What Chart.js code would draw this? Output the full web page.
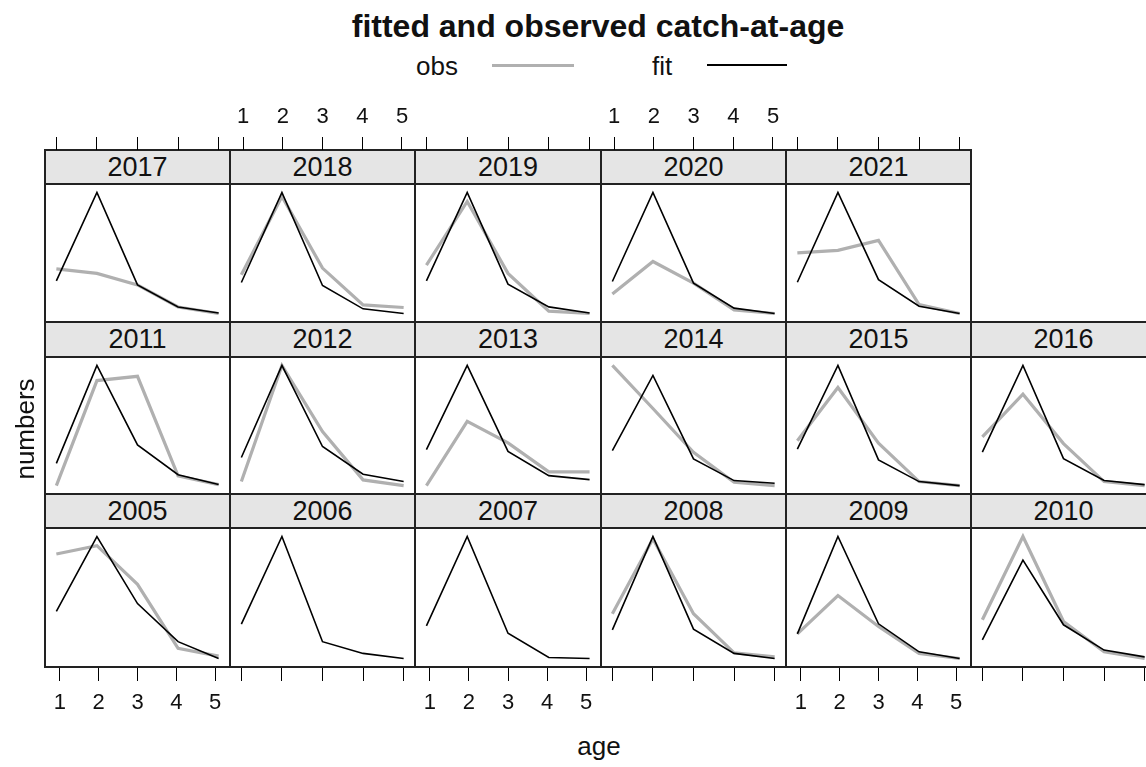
<!DOCTYPE html>
<html>
<head>
<meta charset="utf-8">
<script src="https://cdn.jsdelivr.net/npm/chart.js"></script>
<style>
body { margin:0; width:1146px; height:767px; overflow:hidden; background:#fff; position:relative;
       font-family:"Liberation Sans", Arial, sans-serif; color:#111; }
.txt { position:absolute; white-space:nowrap; line-height:1; }
.strip { position:absolute; background:#e5e5e5; text-align:center; font-size:27px; line-height:34px; }
.frame { position:absolute; border:2px solid #222; box-sizing:border-box; }
.bar { position:absolute; }
canvas { position:absolute; }
</style>
</head>
<body>
<script>
// panels go left to right, bottom row first (lattice order)
const years = [2005, 2006, 2007, 2008, 2009, 2010,
               2011, 2012, 2013, 2014, 2015, 2016,
               2017, 2018, 2019, 2020, 2021];
const ages = [1, 2, 3, 4, 5];

const fitted = [
    [55.3, 129.3, 63, 25.3, 8.7],     // 2005
    [42.7, 129.3, 25.3, 13.7, 8.7],   // 2006
    [41, 129.3, 33.7, 9.7, 8.7],      // 2007
    [37, 129.3, 37.7, 13.7, 8.7],     // 2008
    [33, 129.3, 43, 15.3, 8.7],       // 2009
    [27, 106, 42, 17, 10.3],          // 2010
    [29.7, 128.3, 48.3, 18.3, 8.3],   // 2011
    [36.3, 128.3, 47.3, 19.7, 12.3],  // 2012
    [44, 128.3, 42.3, 18, 14],        // 2013
    [44, 119, 35.7, 14, 11.3],        // 2014
    [44.7, 128.3, 34, 12.3, 8.3],     // 2015
    [42.3, 128.3, 35.7, 14, 10],      // 2016
    [41, 129, 37, 15, 9],             // 2017
    [39.3, 129.3, 36.3, 13, 8.3],     // 2018
    [41.3, 129.3, 38, 15.3, 9.3],     // 2019
    [40.3, 129.3, 38.7, 13.7, 8.3],   // 2020
    [39.3, 129.3, 42, 15.3, 8]        // 2021
];

const observed = [
    [112, 120.3, 82, 18.7, 11],       // 2005
    null,                             // 2006 no obs
    null,                             // 2007 no obs
    [53, 127, 53, 14.3, 10.3],        // 2008
    [33, 71, 40.3, 13.7, 8.7],        // 2009
    [47, 129.3, 45.3, 15.3, 8.7],     // 2010
    [7.3, 113, 117.3, 17, 8.3],       // 2011
    [12.3, 128.3, 62.3, 14, 8.3],     // 2012
    [8, 72.3, 50.7, 21.7, 21.7],      // 2013
    [129, 86, 42.3, 12.3, 9],         // 2014
    [53, 106.3, 50.7, 12.3, 8.3],     // 2015
    [57.3, 99.7, 50.7, 13, 9],        // 2016
    [53, 48.5, 37, 15, 8.5],          // 2017
    [47, 125.3, 53.7, 17, 14.3],      // 2018
    [57, 120.3, 48.7, 11, 8.7],       // 2019
    [27.7, 60.3, 38.7, 12, 8.3],      // 2020
    [68.7, 71.3, 81.3, 17, 8]         // 2021
];

// page geometry
const colLeft = [45, 230, 415, 601, 786, 971, 1156];
const stripTop = [494, 322, 150];
const plotTop = [528, 357, 184];
const plotBottom = [667, 494, 322];
const xMin = 0.72, xMax = 5.28;
const obsColor = '#b0b0b0';
const fontFam = '"Liberation Sans", Arial, sans-serif';

function addDiv(cls, left, top, w, h, html) {
    const d = document.createElement('div');
    d.className = cls;
    d.style.left = left + 'px';
    d.style.top = top + 'px';
    if (w != null) d.style.width = w + 'px';
    if (h != null) d.style.height = h + 'px';
    if (html) d.innerHTML = html;
    document.body.appendChild(d);
    return d;
}

function addCanvas(left, top, w, h) {
    const c = document.createElement('canvas');
    c.width = w; c.height = h;
    c.style.left = left + 'px';
    c.style.top = top + 'px';
    c.style.width = w + 'px';
    c.style.height = h + 'px';
    document.body.appendChild(c);
    return c;
}

function toPoints(vals) {
    return ages.map((a, k) => ({x: a, y: vals[k]}));
}

function makePanel(i) {
    const row = Math.floor(i / 6), col = i % 6;
    const left = colLeft[col], w = colLeft[col + 1] - left;
    const fit = fitted[i], obs = observed[i];
    const all = obs ? fit.concat(obs) : fit;
    const lo = Math.min(...all), hi = Math.max(...all);
    const pad = 0.07 * (hi - lo);

    addDiv('strip', left, stripTop[row], w, plotTop[row] - stripTop[row], String(years[i]));
    const cv = addCanvas(left, plotTop[row], w, plotBottom[row] - plotTop[row]);

    const datasets = [{
        label: 'fit', data: toPoints(fit), borderColor: '#000', borderWidth: 1.6,
        pointRadius: 0, pointHoverRadius: 0, tension: 0
    }];
    if (obs) {
        datasets.push({
            label: 'obs', data: toPoints(obs), borderColor: obsColor, borderWidth: 3.2,
            pointRadius: 0, pointHoverRadius: 0, tension: 0
        });
    }
    new Chart(cv, {
        type: 'line',
        data: {datasets: datasets},
        options: {
            responsive: false, animation: false, devicePixelRatio: 1,
            layout: {padding: 0, autoPadding: false},
            plugins: {legend: {display: false}, tooltip: {enabled: false}},
            scales: {
                x: {type: 'linear', min: xMin, max: xMax, display: false},
                y: {min: lo - pad, max: hi + pad, display: false}
            }
        }
    });

    // border and strip divider
    addDiv('frame', left - 1, stripTop[row] - 1, w + 2, plotBottom[row] - stripTop[row] + 2);
    addDiv('bar', left - 1, plotTop[row] - 1, w + 2, 2).style.background = '#222';
}

// tick marks outside the panels (top and bottom), labels alternate
function makeAxis(col, top, h, pos, showLabels) {
    const left = colLeft[col], w = colLeft[col + 1] - left;
    const cv = addCanvas(left, top, w, h);
    new Chart(cv, {
        type: 'line',
        data: {datasets: []},
        options: {
            responsive: false, animation: false, devicePixelRatio: 1,
            layout: {padding: 0, autoPadding: false},
            plugins: {legend: {display: false}, tooltip: {enabled: false}},
            scales: {
                x: {
                    type: 'linear', position: pos, min: xMin, max: xMax,
                    afterBuildTicks: s => { s.ticks = ages.map(a => ({value: a})); },
                    afterFit: s => { s.height = h - 1; },
                    grid: {drawOnChartArea: false, tickLength: 13, color: '#000', lineWidth: 1},
                    border: {display: false},
                    ticks: {
                        padding: pos === 'top' ? 7 : 9, color: '#111', maxRotation: 0, autoSkip: false,
                        font: {size: 22, family: fontFam},
                        callback: v => showLabels ? String(v) : ''
                    }
                },
                y: {display: false}
            }
        }
    });
}

for (let i = 0; i < years.length; i++) makePanel(i);

for (let c = 0; c < 6; c++) makeAxis(c, 667, 52, 'bottom', c % 2 === 0);
for (let c = 0; c < 5; c++) makeAxis(c, 98, 53, 'top', c % 2 === 1);

// title, legend, axis titles
const title = addDiv('txt', 0, 10, 1196, null, 'fitted and observed catch-at-age');
title.style.fontSize = '32px';
title.style.fontWeight = 'bold';
title.style.textAlign = 'center';

addDiv('txt', 416, 53, null, null, 'obs').style.fontSize = '26px';
addDiv('bar', 492, 63.5, 82, 3).style.background = obsColor;
addDiv('txt', 652, 53, null, null, 'fit').style.fontSize = '26px';
addDiv('bar', 707, 64.2, 80, 1.6).style.background = '#000';

const xlab = addDiv('txt', 0, 733, 1198, null, 'age');
xlab.style.fontSize = '26px';
xlab.style.textAlign = 'center';

const ylab = addDiv('txt', 25 - 60, 429 - 13, 120, null, 'numbers');
ylab.style.fontSize = '26px';
ylab.style.textAlign = 'center';
ylab.style.transform = 'rotate(-90deg)';
</script>
</body>
</html>
